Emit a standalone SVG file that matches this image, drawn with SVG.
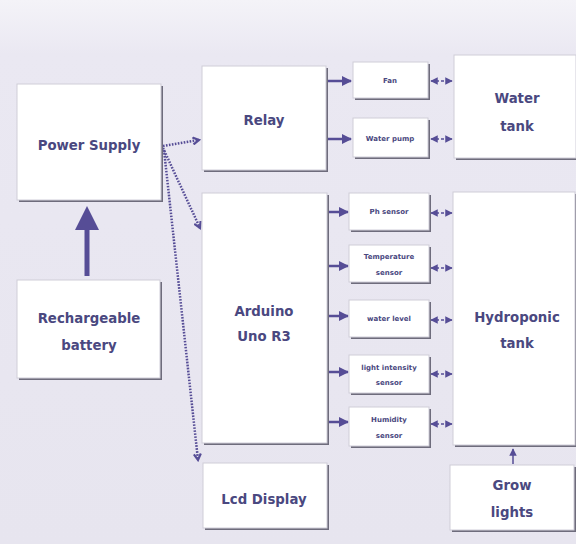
<svg xmlns="http://www.w3.org/2000/svg" width="576" height="544" viewBox="0 0 576 544">
<defs>
<linearGradient id="bg" x1="0" y1="0" x2="0" y2="1">
<stop offset="0" stop-color="#f4f3f8"/>
<stop offset="0.1" stop-color="#eae8f2"/>
<stop offset="1" stop-color="#e7e5ef"/>
</linearGradient>
<marker id="tri" viewBox="0 0 10 10" refX="9" refY="5" markerWidth="4" markerHeight="4" orient="auto-start-reverse">
<path d="M0,0 L10,5 L0,10 z" fill="#564d96"/>
</marker>
<marker id="small" viewBox="0 0 10 10" refX="9" refY="5" markerWidth="5" markerHeight="5" orient="auto-start-reverse">
<path d="M0,0 L10,5 L0,10 z" fill="#564d96"/>
</marker>
<marker id="open" viewBox="0 0 10 10" refX="8" refY="5" markerWidth="3.5" markerHeight="3.5" orient="auto">
<path d="M1,1 L8,5 L1,9" fill="none" stroke="#564d96" stroke-width="2.5"/>
</marker>
</defs>
<style>
.box{fill:#ffffff;stroke:#cfcdd8;stroke-width:1}
.sh{fill:#6e6c7c}
.t{font-family:"DejaVu Sans",sans-serif;font-weight:bold;fill:#4a4880;text-anchor:middle}
.big{font-size:13.3px}
.sm{font-size:7px}
.c{stroke:#564d96;fill:none}
.solid{stroke-width:2.5}
.dot{stroke-width:2.5;stroke-dasharray:1.6 1.4}
.dbl{stroke-width:1.5;stroke-dasharray:3 2}
</style>
<rect width="576" height="544" fill="url(#bg)"/>

<g id="connectors">
<line class="c" x1="87" y1="276" x2="87" y2="212" stroke-width="5"/>
<path d="M75,230 L87,206 L99,230 z" fill="#564d96"/>
<path class="c dot" d="M163,146 L199,140" marker-end="url(#open)"/>
<path class="c dot" d="M163,148 L200,228" marker-end="url(#open)"/>
<path class="c dot" d="M164,150 L198,460" marker-end="url(#open)"/>
<line class="c solid" x1="327" y1="81" x2="351" y2="81" marker-end="url(#tri)"/>
<line class="c solid" x1="327" y1="139" x2="351" y2="139" marker-end="url(#tri)"/>
<line class="c solid" x1="328" y1="212" x2="348" y2="212" marker-end="url(#tri)"/>
<line class="c solid" x1="328" y1="266" x2="348" y2="266" marker-end="url(#tri)"/>
<line class="c solid" x1="328" y1="316" x2="348" y2="316" marker-end="url(#tri)"/>
<line class="c solid" x1="328" y1="372" x2="348" y2="372" marker-end="url(#tri)"/>
<line class="c solid" x1="328" y1="422" x2="348" y2="422" marker-end="url(#tri)"/>
<line class="c dbl" x1="431" y1="81" x2="452" y2="81" marker-start="url(#small)" marker-end="url(#small)"/>
<line class="c dbl" x1="431" y1="139" x2="452" y2="139" marker-start="url(#small)" marker-end="url(#small)"/>
<line class="c dbl" x1="431" y1="213" x2="452" y2="213" marker-start="url(#small)" marker-end="url(#small)"/>
<line class="c dbl" x1="431" y1="268" x2="452" y2="268" marker-start="url(#small)" marker-end="url(#small)"/>
<line class="c dbl" x1="431" y1="320" x2="452" y2="320" marker-start="url(#small)" marker-end="url(#small)"/>
<line class="c dbl" x1="431" y1="374" x2="452" y2="374" marker-start="url(#small)" marker-end="url(#small)"/>
<line class="c dbl" x1="431" y1="424" x2="452" y2="424" marker-start="url(#small)" marker-end="url(#small)"/>
<line class="c" x1="513" y1="464" x2="513" y2="449" stroke-width="1.5" marker-end="url(#small)"/>
</g>

<g id="power-supply">
<rect class="sh" x="19" y="86" width="144" height="116"/>
<rect class="box" x="17" y="84" width="144" height="116"/>
<text class="t big" x="89" y="150">Power Supply</text>
</g>
<g id="battery">
<rect class="sh" x="19" y="282" width="143" height="98"/>
<rect class="box" x="17" y="280" width="143" height="98"/>
<text class="t big" x="89" y="323">Rechargeable</text>
<text class="t big" x="89" y="350">battery</text>
</g>
<g id="relay">
<rect class="sh" x="204" y="68" width="124" height="104"/>
<rect class="box" x="202" y="66" width="124" height="104"/>
<text class="t big" x="264" y="125">Relay</text>
</g>
<g id="arduino">
<rect class="sh" x="204" y="195" width="125" height="250"/>
<rect class="box" x="202" y="193" width="125" height="250"/>
<text class="t big" x="264" y="316">Arduino</text>
<text class="t big" x="264" y="341">Uno R3</text>
</g>
<g id="lcd">
<rect class="sh" x="205" y="465" width="124" height="65"/>
<rect class="box" x="203" y="463" width="124" height="65"/>
<text class="t big" x="264" y="504">Lcd Display</text>
</g>
<g id="fan">
<rect class="sh" x="355" y="64" width="75" height="36"/>
<rect class="box" x="353" y="62" width="75" height="36"/>
<text class="t sm" x="390" y="83">Fan</text>
</g>
<g id="water-pump">
<rect class="sh" x="355" y="120" width="75" height="39"/>
<rect class="box" x="353" y="118" width="75" height="39"/>
<text class="t sm" x="390" y="141">Water pump</text>
</g>
<g id="water-tank">
<rect class="sh" x="456" y="57" width="122" height="103"/>
<rect class="box" x="454" y="55" width="122" height="103"/>
<text class="t big" x="517" y="103">Water</text>
<text class="t big" x="517" y="131">tank</text>
</g>
<g id="ph-sensor">
<rect class="sh" x="351" y="195" width="80" height="37"/>
<rect class="box" x="349" y="193" width="80" height="37"/>
<text class="t sm" x="389" y="214">Ph sensor</text>
</g>
<g id="temp-sensor">
<rect class="sh" x="351" y="247" width="80" height="37"/>
<rect class="box" x="349" y="245" width="80" height="37"/>
<text class="t sm" x="389" y="259">Temperature</text>
<text class="t sm" x="389" y="275">sensor</text>
</g>
<g id="water-level">
<rect class="sh" x="351" y="302" width="80" height="37"/>
<rect class="box" x="349" y="300" width="80" height="37"/>
<text class="t sm" x="389" y="321">water level</text>
</g>
<g id="light-sensor">
<rect class="sh" x="351" y="357" width="80" height="38"/>
<rect class="box" x="349" y="355" width="80" height="38"/>
<text class="t sm" x="389" y="370">light intensity</text>
<text class="t sm" x="389" y="385">sensor</text>
</g>
<g id="humidity-sensor">
<rect class="sh" x="351" y="409" width="80" height="39"/>
<rect class="box" x="349" y="407" width="80" height="39"/>
<text class="t sm" x="389" y="422">Humidity</text>
<text class="t sm" x="389" y="438">sensor</text>
</g>
<g id="hydroponic-tank">
<rect class="sh" x="455" y="194" width="122" height="253"/>
<rect class="box" x="453" y="192" width="122" height="253"/>
<text class="t big" x="517" y="322">Hydroponic</text>
<text class="t big" x="517" y="348">tank</text>
</g>
<g id="grow-lights">
<rect class="sh" x="452" y="467" width="124" height="65"/>
<rect class="box" x="450" y="465" width="124" height="65"/>
<text class="t big" x="512" y="490">Grow</text>
<text class="t big" x="512" y="517">lights</text>
</g>
</svg>
